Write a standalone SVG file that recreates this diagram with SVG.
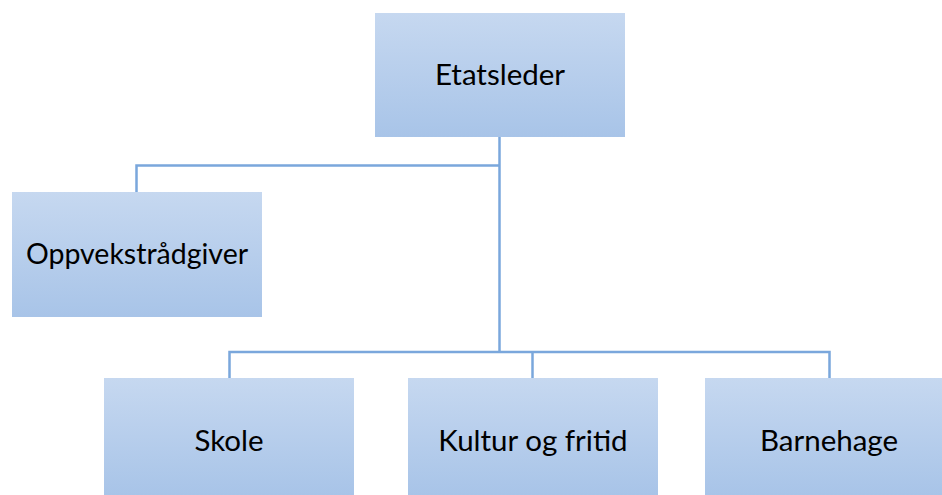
<svg xmlns="http://www.w3.org/2000/svg" width="942" height="495" viewBox="0 0 942 495">
  <defs>
    <linearGradient id="g" x1="0" y1="0" x2="0" y2="1">
      <stop offset="0" stop-color="#c6d8f0"/>
      <stop offset="1" stop-color="#a8c4e8"/>
    </linearGradient>
    <style>
      .box { fill: url(#g); }
      .lbl { font-family: Lato, "Open Sans", sans-serif; font-size: 29.5px; fill: #000; text-anchor: middle; }
      .small { font-size: 28.5px; }
      .con { fill: none; stroke: #7aa7dc; stroke-width: 2.5; }
    </style>
  </defs>
  <rect width="942" height="495" fill="#fff"/>
  <g id="connectors">
    <path class="con" d="M499.5 137 V352"/>
    <path class="con" d="M499.5 165.5 H136.5 V192"/>
    <path class="con" d="M229.5 378 V352 H829.5 V378"/>
    <path class="con" d="M532.5 352 V378"/>
  </g>
  <g id="etatsleder">
    <rect class="box" x="375" y="13" width="250" height="124"/>
    <text class="lbl" x="500" y="85">Etatsleder</text>
  </g>
  <g id="oppvekstradgiver">
    <rect class="box" x="12" y="192" width="250" height="125"/>
    <text class="lbl small" x="137" y="264">Oppvekstrådgiver</text>
  </g>
  <g id="skole">
    <rect class="box" x="104" y="378" width="250" height="117"/>
    <text class="lbl" x="229" y="450.5">Skole</text>
  </g>
  <g id="kultur">
    <rect class="box" x="408" y="378" width="250" height="117"/>
    <text class="lbl" x="533" y="450.5">Kultur og fritid</text>
  </g>
  <g id="barnehage">
    <rect class="box" x="705" y="378" width="250" height="117"/>
    <text class="lbl" x="829" y="450.5">Barnehage</text>
  </g>
</svg>
